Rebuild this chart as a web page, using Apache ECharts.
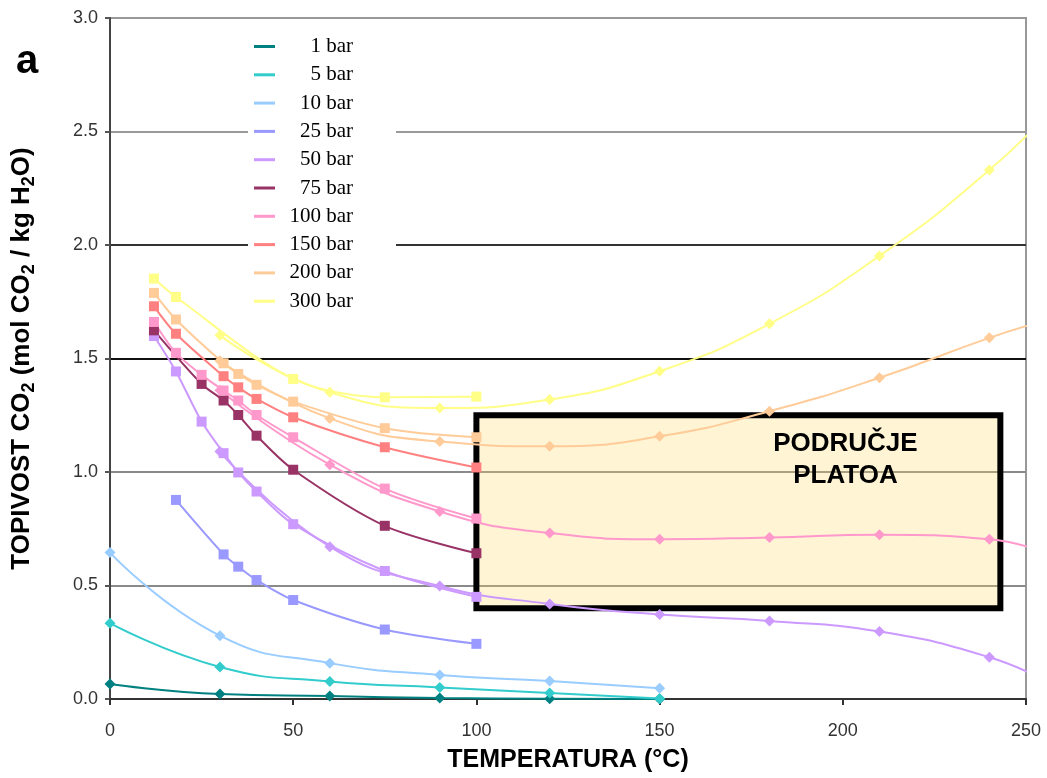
<!DOCTYPE html>
<html>
<head>
<meta charset="utf-8">
<script src="https://cdn.jsdelivr.net/npm/echarts@6/dist/echarts.min.js"></script>
<style>
  html, body { margin: 0; padding: 0; background: #fff; }
  #chart { width: 1047px; height: 778px; }
</style>
</head>
<body>
<div id="chart"></div>
<script>
// ---------- data ----------
const pressures = ['1 bar', '5 bar', '10 bar', '25 bar', '50 bar', '75 bar', '100 bar', '150 bar', '200 bar', '300 bar'];
const colors    = ['#008080', '#33CCCC', '#99CCFF', '#9999FF', '#CC99FF', '#993366', '#FF99CC', '#FF8080', '#FFCC99', '#FFFF88'];

// experimental points (squares)
const expT   = [12, 18, 25, 31, 35, 40, 50, 75, 100];
const exp25  = [null, 0.877, null, 0.637, 0.583, 0.524, 0.436, 0.306, 0.243];
const exp50  = [1.599, 1.443, 1.222, 1.083, 0.998, 0.914, 0.770, 0.564, 0.450];
const exp75  = [1.624, null, 1.388, 1.315, 1.251, 1.160, 1.010, 0.763, 0.642];
const exp100 = [1.661, 1.525, 1.428, 1.359, 1.315, 1.251, 1.153, 0.927, 0.795];
const exp150 = [1.730, 1.609, null, 1.422, 1.373, 1.322, 1.241, 1.109, 1.020];
const exp200 = [1.789, 1.672, null, 1.479, 1.432, 1.384, 1.310, 1.193, 1.153];
const exp300 = [1.852, 1.771, null, null, null, null, 1.410, 1.329, 1.332];

// model points (diamonds)
const modT   = [0, 30, 60, 90, 120, 150, 180, 210, 240, 256];
const mod1   = [0.066, 0.022, 0.013, 0.004, 0.001, 0.000, null, null, null, null];
const mod5   = [0.334, 0.141, 0.077, 0.051, 0.026, 0.002, null, null, null, null];
const mod10  = [0.645, 0.279, 0.158, 0.106, 0.079, 0.047, null, null, null, null];
const mod50  = [null, 1.090, 0.671, 0.498, 0.419, 0.372, 0.344, 0.297, 0.184, 0.075];
const mod100 = [null, 1.360, 1.032, 0.826, 0.731, 0.704, 0.712, 0.724, 0.704, 0.640];
const mod200 = [null, 1.490, 1.236, 1.134, 1.113, 1.157, 1.268, 1.415, 1.591, 1.670];
const mod300 = [null, 1.602, 1.351, 1.282, 1.319, 1.444, 1.653, 1.952, 2.330, 2.580];

// plateau region box
const boxT = [100, 243];
const boxS = [0.40, 1.25];
const boxText = 'PODRUČJE\nPLATOA';

const xTicks = [0, 50, 100, 150, 200, 250];
const yTicks = [0, 0.5, 1.0, 1.5, 2.0, 2.5, 3.0];

// ---------- build ----------
const XMAX = 250;
function pts(xs, ys) {
  return xs.map((x, i) => [x, ys[i]])
    .filter(p => p[1] !== null)
    .map(p => p[0] > XMAX ? { value: p, symbol: 'none' } : p);
}
function colorOf(name) { return colors[pressures.indexOf(name)]; }

const expSets = [['25 bar', exp25], ['50 bar', exp50], ['75 bar', exp75], ['100 bar', exp100],
                 ['150 bar', exp150], ['200 bar', exp200], ['300 bar', exp300]];
const modSets = [['1 bar', mod1], ['5 bar', mod5], ['10 bar', mod10], ['50 bar', mod50],
                 ['100 bar', mod100], ['200 bar', mod200], ['300 bar', mod300]];

const series = [];
modSets.forEach(([name, ys]) => {
  const c = colorOf(name);
  series.push({
    name, type: 'line', data: pts(modT, ys), smooth: 0.5,
    symbol: 'diamond', symbolSize: 11, clip: false,
    lineStyle: { color: c, width: 2 }, itemStyle: { color: c }, z: 3
  });
});
expSets.forEach(([name, ys]) => {
  const c = colorOf(name);
  series.push({
    name, type: 'line', data: pts(expT, ys), smooth: 0.3,
    symbol: 'rect', symbolSize: 10, clip: false,
    lineStyle: { color: c, width: 2 }, itemStyle: { color: c }, z: 4
  });
});
// plateau box
series.push({
  name: 'box', type: 'line', data: [], z: 10, silent: true,
  markArea: {
    silent: true,
    itemStyle: { color: 'rgba(255,220,100,0.28)', borderColor: '#000', borderWidth: 6 },
    label: {
      show: true, position: ['70.2%', '8%'], align: 'center', verticalAlign: 'top',
      color: '#000', fontFamily: 'Liberation Sans, Arial, sans-serif', fontWeight: 'bold',
      fontSize: 26, lineHeight: 32
    },
    data: [[{ coord: [boxT[0], boxS[1]], name: boxText }, { coord: [boxT[1], boxS[0]] }]]
  }
});

const sans = 'Liberation Sans, Arial, sans-serif';
const chart = echarts.init(document.getElementById('chart'), null, { renderer: 'canvas' });
chart.setOption({
  animation: false,
  backgroundColor: '#fff',
  grid: { left: 110, right: 21, top: 18, bottom: 79, show: true, borderColor: '#999', borderWidth: 2 },
  legend: {
    orient: 'vertical', left: 248, top: 28, padding: [8, 43, 8, 6],
    backgroundColor: '#fff', itemWidth: 21, itemHeight: 3, itemGap: 7.3,
    selectedMode: false,
    data: pressures.map(n => ({ name: n, icon: 'rect' })),
    formatter: n => '{r|' + n + '}',
    textStyle: { rich: { r: { width: 73, align: 'right', fontFamily: 'Liberation Serif, Times New Roman, serif', fontSize: 21, lineHeight: 20, color: '#000' } } }
  },
  xAxis: {
    type: 'value', min: xTicks[0], max: xTicks[xTicks.length - 1], interval: 50,
    name: 'TEMPERATURA (°C)', nameLocation: 'middle', nameGap: 49,
    nameTextStyle: { fontFamily: sans, fontWeight: 'bold', fontSize: 25, color: '#000' },
    axisLine: { show: true, lineStyle: { color: '#333', width: 2 } },
    axisTick: { show: true, inside: false, length: 6, lineStyle: { color: '#333', width: 2 } },
    axisLabel: { margin: 23, fontFamily: sans, fontSize: 18, color: '#333' },
    splitLine: { show: false }
  },
  yAxis: {
    type: 'value', min: yTicks[0], max: yTicks[yTicks.length - 1], interval: 0.5,
    name: '{b|TOPIVOST CO}{s|2}{b| (mol CO}{s|2}{b| / kg H}{s|2}{b|O)}',
    nameLocation: 'middle', nameGap: 72,
    nameTextStyle: {
      rich: {
        b: { fontFamily: sans, fontWeight: 'bold', fontSize: 26, lineHeight: 32, color: '#000' },
        s: { fontFamily: sans, fontWeight: 'bold', fontSize: 18, lineHeight: 18, verticalAlign: 'bottom', color: '#000' }
      }
    },
    axisLine: { show: true, lineStyle: { color: '#444', width: 2 } },
    axisTick: { show: true, inside: false, length: 5, lineStyle: { color: '#555', width: 2 } },
    axisLabel: { margin: 12, fontFamily: sans, fontSize: 18, color: '#333', formatter: v => v.toFixed(1) },
    splitLine: { show: true, lineStyle: { width: 2, color: ['#555', '#8a8a8a', '#8a8a8a', '#111', '#333', '#999', '#999'] } }
  },
  graphic: [{
    type: 'text', x: 27, y: 62, z: 100,
    style: { text: 'a', fontFamily: sans, fontWeight: 'bold', fontSize: 40, fill: '#000', align: 'center', verticalAlign: 'middle' }
  }],
  series
});
</script>
</body>
</html>
